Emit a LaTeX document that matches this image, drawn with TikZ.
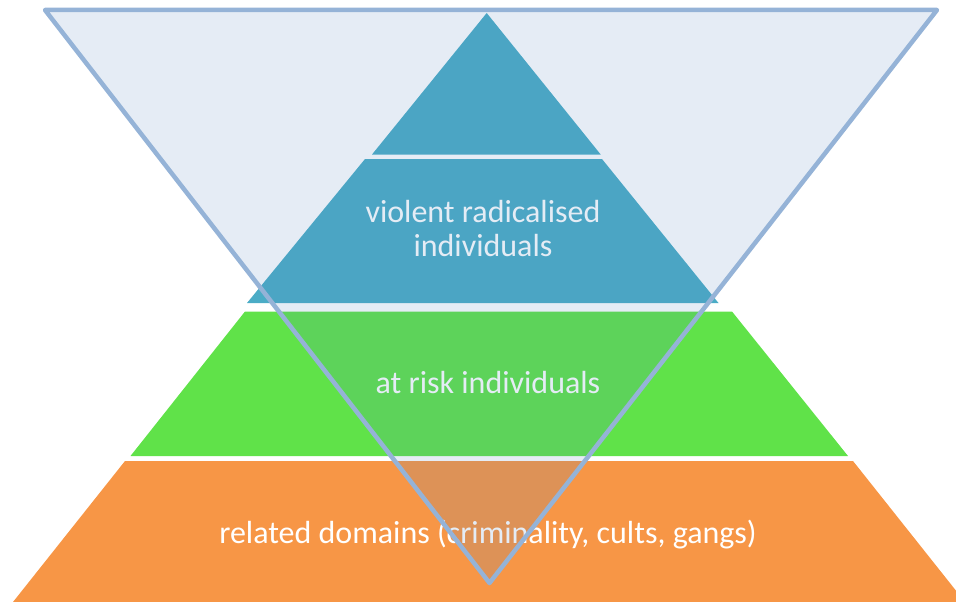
\documentclass[tikz,border=0pt]{standalone}
\usepackage{fontspec}
\setmainfont{Carlito}
\definecolor{aquaL}{HTML}{4BACC6}
\definecolor{greenL}{HTML}{60E249}
\definecolor{orangeL}{HTML}{F79646}
\definecolor{triFill}{HTML}{4F81BD}
\definecolor{triLine}{HTML}{95B3D7}
\begin{document}
\begin{tikzpicture}[x=1pt,y=-1pt,
  lbl/.style={text=white,font=\fontsize{32}{34}\selectfont,align=center,inner sep=0pt},
  funnel/.style={draw=triLine,line width=4.5pt,line join=round,fill=triFill,fill opacity=0.15}]
\useasboundingbox (0,0) rectangle (956,602);
\clip (0,0) rectangle (956,602);
% pyramid layers
\fill[aquaL] (486.7,13) -- (600.7,154.5) -- (372,154.5) -- cycle;
\fill[aquaL] (365,159) -- (602,159) -- (718.5,303) -- (247,303) -- cycle;
\fill[greenL] (245,311.5) -- (732,311.5) -- (848,456) -- (130.5,456) -- cycle;
\fill[orangeL] (125,461) -- (853,461) -- (965,602) -- (13,602) -- cycle;
% labels
\node[lbl] (violent) at (483,229) {violent radicalised\\individuals};
\node[lbl] (atrisk) at (488,383) {at risk individuals};
\node[lbl] (related) at (488,535) {related domains (criminality, cults, gangs)};
% inverted triangle
\coordinate (tl) at (45,10);
\coordinate (tr) at (937,10);
\coordinate (tb) at (489.5,583);
\draw[funnel] (tl) -- (tr) -- (tb) -- cycle;
\end{tikzpicture}
\end{document}
